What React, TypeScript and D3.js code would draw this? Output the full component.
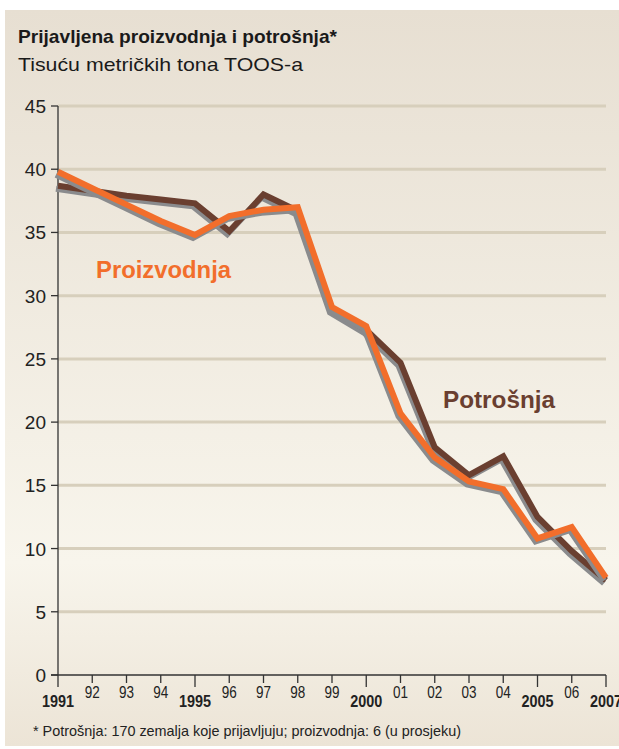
import React from 'react';
import * as d3 from 'd3';

const years = [1991, 1992, 1993, 1994, 1995, 1996, 1997, 1998, 1999, 2000, 2001, 2002, 2003, 2004, 2005, 2006, 2007];
const yearLabels = ['1991', '92', '93', '94', '1995', '96', '97', '98', '99', '2000', '01', '02', '03', '04', '2005', '06', '2007'];
const majorYears = [1991, 1995, 2000, 2005, 2007];
const proizvodnja = [39.8, 38.5, 37.2, 35.9, 34.8, 36.3, 36.8, 37.0, 29.1, 27.6, 20.7, 17.2, 15.3, 14.7, 10.8, 11.7, 7.7];
const potrosnja = [38.7, 38.3, 37.9, 37.6, 37.3, 35.1, 38.0, 36.7, 28.9, 27.3, 24.7, 18.0, 15.8, 17.3, 12.5, 9.8, 7.5];
const yTicks = [0, 5, 10, 15, 20, 25, 30, 35, 40, 45];

const W = 619;
const H = 749;
const left = 58;
const right = 606;
const top = 106;
const bottom = 675;
const font = '"Liberation Sans", Arial, sans-serif';

const ORANGE = '#f26e2b';
const BROWN = '#6a3f30';
const SHADOW = '#8a8b8d';

const App = () => {
  const x = d3.scaleLinear().domain([1991, 2007]).range([left, right]);
  const y = d3.scaleLinear().domain([0, 45]).range([bottom, top]);

  const line = d3
    .line<number>()
    .x((d, i) => x(years[i]))
    .y((d) => y(d));

  // grey drop shadow under each series
  const series = [
    { values: potrosnja, colour: BROWN },
    { values: proizvodnja, colour: ORANGE },
  ];

  return (
    <svg width={W} height={H} style={{ position: 'absolute', left: 0, top: 0 }}>
      <defs>
        <linearGradient id="bg" x1="0" y1="0" x2="0" y2="1">
          <stop offset="0" stopColor="#e7dfd2" />
          <stop offset="0.75" stopColor="#f8f5ec" />
          <stop offset="1" stopColor="#ece4d6" />
        </linearGradient>
      </defs>
      <rect x={5} y={10} width={W - 5} height={736} fill="url(#bg)" />

      <text x={18} y={43} fontFamily={font} fontWeight="bold" fontSize={19} fill="#1a1a1a" textLength={319} lengthAdjust="spacingAndGlyphs">
        Prijavljena proizvodnja i potrošnja*
      </text>
      <text x={18} y={71} fontFamily={font} fontSize={19} fill="#1a1a1a" textLength={285} lengthAdjust="spacingAndGlyphs">
        Tisuću metričkih tona TOOS-a
      </text>

      {/* gridlines */}
      {yTicks.filter((t) => t > 0).map((t) => (
        <line key={t} x1={left} x2={right} y1={y(t)} y2={y(t)} stroke="#d7cfbc" strokeWidth={3} />
      ))}

      {/* y axis */}
      <line x1={left} x2={left} y1={top} y2={bottom} stroke="#333" strokeWidth={1.3} />
      {yTicks.map((t) => (
        <g key={t}>
          <line x1={left - 7} x2={left} y1={y(t)} y2={y(t)} stroke="#333" strokeWidth={1.3} />
          <text x={46} y={y(t) + 7} textAnchor="end" fontFamily={font} fontSize={19} fill="#222">
            {t}
          </text>
        </g>
      ))}

      {/* x axis */}
      <line x1={left - 7} x2={right} y1={bottom} y2={bottom} stroke="#333" strokeWidth={1.3} />
      {years.map((yr, i) => {
        const major = majorYears.includes(yr);
        return (
          <g key={yr}>
            <line x1={x(yr)} x2={x(yr)} y1={bottom} y2={bottom + (major ? 12 : 8)} stroke="#333" strokeWidth={1.3} />
            <text
              x={x(yr)}
              y={major ? 707 : 698}
              textAnchor="middle"
              fontFamily={font}
              fontSize={16}
              fontWeight={major ? 'bold' : 'normal'}
              fill="#222"
              textLength={major ? 32 : 15}
              lengthAdjust="spacingAndGlyphs"
            >
              {yearLabels[i]}
            </text>
          </g>
        );
      })}

      {/* lines */}
      {series.map((s, i) => (
        <g key={i}>
          <path
            d={line(s.values) || ''}
            transform="translate(-2,3)"
            fill="none"
            stroke={SHADOW}
            strokeWidth={6}
            strokeLinejoin="miter"
          />
          <path d={line(s.values) || ''} fill="none" stroke={s.colour} strokeWidth={6} strokeLinejoin="miter" />
        </g>
      ))}

      <text x={96} y={278} fontFamily={font} fontWeight="bold" fontSize={23} fill={ORANGE} textLength={135} lengthAdjust="spacingAndGlyphs">
        Proizvodnja
      </text>
      <text x={443} y={408} fontFamily={font} fontWeight="bold" fontSize={23} fill={BROWN} textLength={112} lengthAdjust="spacingAndGlyphs">
        Potrošnja
      </text>

      <text x={33} y={736} fontFamily={font} fontSize={15} fill="#222" textLength={428} lengthAdjust="spacingAndGlyphs">
        * Potrošnja: 170 zemalja koje prijavljuju; proizvodnja: 6 (u prosjeku)
      </text>
    </svg>
  );
};

export default App;
